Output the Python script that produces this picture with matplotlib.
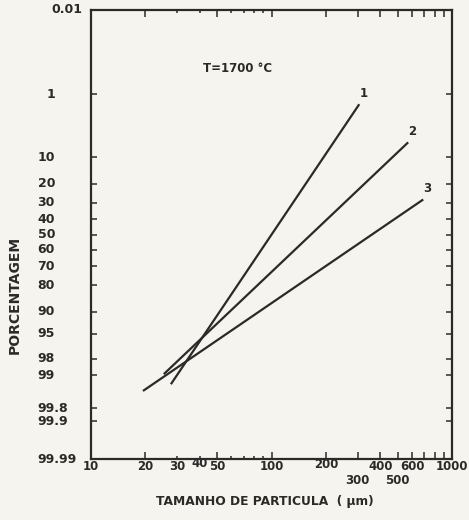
import numpy as np
import matplotlib
matplotlib.use('Agg')
import matplotlib.pyplot as plt
from statistics import NormalDist

# dados (tamanho em um, porcentagem acumulada)
curve_ids = ['1', '2', '3']
size_1 = [27.7, 306]
pct_1 = [99.34, 1.55]
size_2 = [25.3, 571]
pct_2 = [98.96, 6.35]
size_3 = [19.4, 692]
pct_3 = [99.52, 28.1]

y_ticks = [1, 10, 20, 30, 40, 50, 60, 70, 80, 90, 95, 98, 99, 99.8, 99.9]
y_labels = ['0.01', '1', '10', '20', '30', '40', '50', '60', '70', '80',
            '90', '95', '98', '99', '99.8', '99.9', '99.99']
y_label_vals = [0.01, 1, 10, 20, 30, 40, 50, 60, 70, 80,
                90, 95, 98, 99, 99.8, 99.9, 99.99]
x_major = [20, 50, 100, 200, 300, 400, 500, 600, 700, 800, 900]
x_minor = [30, 40, 60, 70, 80, 90]
x_label_vals = [10, 20, 30, 40, 50, 100, 200, 300, 400, 500, 600, 1000]
x_labels = ['10', '20', '30', '40', '50', '100', '200', '300', '400', '500', '600', '1000']

INK = '#2b2a28'
PAPER = '#f5f4ee'
_nd = NormalDist()

_ppf = np.vectorize(lambda v: _nd.inv_cdf(v / 100.0), otypes=[float])
_cdf = np.vectorize(lambda v: _nd.cdf(v) * 100.0, otypes=[float])


def _fwd(p):
    p = np.clip(np.asarray(p, dtype=float), 1e-6, 100 - 1e-6)
    return _ppf(p)


def _inv(z):
    return _cdf(np.asarray(z, dtype=float))


plt.rcParams['font.family'] = ['DejaVu Sans']
plt.rcParams['font.weight'] = 'bold'

fig = plt.figure(figsize=(4.69, 5.2), dpi=100, facecolor=PAPER)
ax = fig.add_axes([0.194, 0.117, 0.770, 0.864], facecolor=PAPER)

ax.set_xscale('log')
ax.set_yscale('function', functions=(_fwd, _inv))
ax.set_xlim(10, 1000)
ax.set_ylim(99.99, 0.01)

for sx, sp, cid in [(size_1, pct_1, '1'), (size_2, pct_2, '2'), (size_3, pct_3, '3')]:
    ax.plot(sx, sp, color=INK, lw=1.6, solid_capstyle='butt')
    ax.annotate(cid, (sx[-1], sp[-1]), xytext=(3, 8), textcoords='offset points',
                ha='center', va='center', fontsize=8.5, fontweight='bold', color=INK)

# ticks
ax.set_yticks(y_ticks)
ax.set_yticks([], minor=True)
ax.set_yticklabels([])
ax.set_xticks(x_major)
ax.set_xticks(x_minor, minor=True)
ax.set_xticklabels([])
ax.set_xticklabels([], minor=True)
ax.tick_params(which='both', direction='in', top=True, right=True, color=INK, width=1.1)
ax.tick_params(axis='x', which='major', length=5)
ax.tick_params(axis='x', which='minor', length=2.5)
ax.tick_params(axis='y', which='major', length=4.5)
for s in ax.spines.values():
    s.set_linewidth(1.6)
    s.set_color(INK)

# rotulos do eixo y
for val, lab in zip(y_label_vals, y_labels):
    if lab == '0.01':
        ax.annotate(lab, (0, val), xycoords=('axes fraction', 'data'), xytext=(-6, 0),
                    textcoords='offset points', ha='right', va='center',
                    fontsize=9, color=INK)
    elif lab == '1':
        ax.annotate(lab, (0, val), xycoords=('axes fraction', 'data'), xytext=(-32, 0),
                    textcoords='offset points', ha='left', va='center',
                    fontsize=9, color=INK)
    else:
        ax.annotate(lab, (0, val), xycoords=('axes fraction', 'data'), xytext=(-38.5, 0),
                    textcoords='offset points', ha='left', va='center',
                    fontsize=9, color=INK)

# rotulos do eixo x
for val, lab in zip(x_label_vals, x_labels):
    dy = -5.5
    if lab in ('300', '500'):
        dy = -15.5
    elif lab == '40':
        dy = -3
    elif lab == '200':
        dy = -4
    ax.annotate(lab, (val, 0), xycoords=('data', 'axes fraction'), xytext=(0, dy),
                textcoords='offset points', ha='center', va='center',
                fontsize=8.5, color=INK)

ax.text(0.407, 0.869, 'T=1700 °C', transform=ax.transAxes, ha='center', va='center',
        fontsize=8.5, fontweight='bold', color=INK)

fig.text(0.032, 0.433, 'PORCENTAGEM', rotation=90, ha='center', va='center',
         fontsize=10, fontweight='bold', color=INK)
fig.text(0.565, 0.035, 'TAMANHO DE PARTICULA  ( µm)', ha='center', va='center',
         fontsize=8.8, fontweight='bold', color=INK)

fig.savefig('out.png', dpi=100, facecolor=PAPER)
